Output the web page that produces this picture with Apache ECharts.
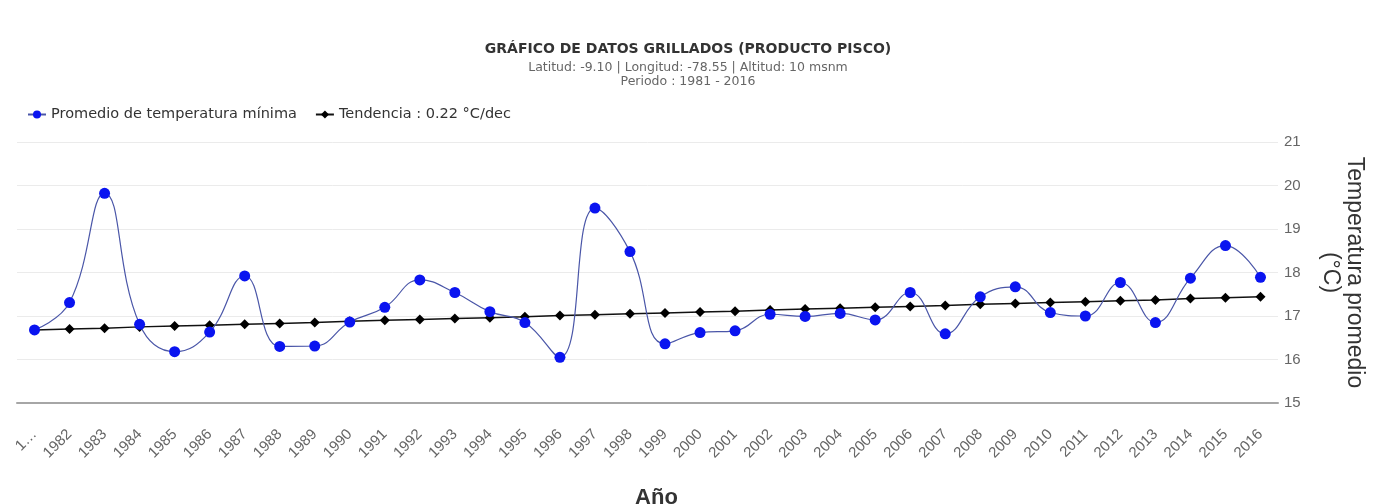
<!DOCTYPE html>
<html>
<head>
<meta charset="utf-8">
<script src="https://cdn.jsdelivr.net/npm/echarts@6/dist/echarts.min.js"></script>
<style>
  html, body { margin: 0; padding: 0; background: #fff; }
  #chart { width: 1376px; height: 504px; }
</style>
</head>
<body>
<div id="chart"></div>
<script>
// Years of the gridded series
const years = ['1981', '1982', '1983', '1984', '1985', '1986', '1987', '1988', '1989', '1990',
  '1991', '1992', '1993', '1994', '1995', '1996', '1997', '1998', '1999', '2000',
  '2001', '2002', '2003', '2004', '2005', '2006', '2007', '2008', '2009', '2010',
  '2011', '2012', '2013', '2014', '2015', '2016'];

// Annual mean of minimum temperature (°C)
const tempMin = [16.68, 17.31, 19.82, 16.81, 16.18, 16.63, 17.92, 16.30, 16.31, 16.86,
  17.20, 17.83, 17.54, 17.10, 16.85, 16.05, 19.48, 18.48, 16.36, 16.62,
  16.66, 17.04, 16.99, 17.06, 16.91, 17.54, 16.59, 17.44, 17.67, 17.08,
  17.00, 17.77, 16.85, 17.87, 18.62, 17.89];

// Linear trend (0.22 °C per decade)
const trend = [16.68, 16.70, 16.72, 16.75, 16.77, 16.79, 16.81, 16.83, 16.85, 16.88,
  16.90, 16.92, 16.94, 16.96, 16.98, 17.01, 17.03, 17.05, 17.07, 17.09,
  17.11, 17.14, 17.16, 17.18, 17.20, 17.22, 17.24, 17.27, 17.29, 17.31,
  17.33, 17.35, 17.37, 17.40, 17.42, 17.44];

// Y axis range and step
const yMin = 15, yMax = 21, yStep = 1;

const titleText = 'GRÁFICO DE DATOS GRILLADOS (PRODUCTO PISCO)';
const subText = 'Latitud: -9.10 | Longitud: -78.55 | Altitud: 10 msnm\nPeriodo : 1981 - 2016';
const seriesNames = ['Promedio de temperatura mínima', 'Tendencia : 0.22 °C/dec'];

const uiFont = '"DejaVu Sans", Verdana, sans-serif';
const axisFont = '"Liberation Sans", Arial, sans-serif';

const chart = echarts.init(document.getElementById('chart'), null, { renderer: 'canvas' });

chart.setOption({
  backgroundColor: '#ffffff',
  animation: false,
  title: {
    text: titleText,
    subtext: subText,
    left: 'center',
    top: 37,
    itemGap: 5,
    textStyle: { fontFamily: uiFont, fontSize: 14, fontWeight: 'bold', color: '#333' },
    subtextStyle: { fontFamily: uiFont, fontSize: 12.5, color: '#666', lineHeight: 14 }
  },
  legend: {
    left: 22,
    top: 102,
    itemWidth: 18,
    itemHeight: 10,
    itemGap: 18,
    textStyle: { fontFamily: uiFont, fontSize: 14.5, color: '#333' },
    data: seriesNames
  },
  grid: { left: 17, right: 98, top: 142, bottom: 101, containLabel: false, outerBoundsMode: 'none' },
  xAxis: {
    type: 'category',
    data: years,
    boundaryGap: true,
    name: 'Año',
    nameLocation: 'middle',
    nameGap: 84,
    nameTextStyle: { fontFamily: axisFont, fontSize: 22, fontWeight: 'bold', color: '#333', padding: [0, 0, 0, 18] },
    axisLine: { lineStyle: { color: '#a6a6a6', width: 2 } },
    axisTick: { show: false },
    splitLine: { show: false },
    axisLabel: {
      interval: 0,
      rotate: 45,
      margin: 29,
      fontFamily: axisFont,
      fontSize: 15,
      color: '#666',
      formatter: (v, i) => (i === 0 ? v.charAt(0) + '…' : v)
    }
  },
  yAxis: {
    type: 'value',
    position: 'right',
    min: yMin,
    max: yMax,
    interval: yStep,
    name: 'Temperatura promedio\n(°C)',
    nameLocation: 'middle',
    nameRotate: -90,
    nameGap: 40,
    nameTextStyle: { fontFamily: axisFont, fontSize: 23, color: '#333', lineHeight: 24 },
    axisLine: { show: false },
    axisTick: { show: false },
    axisLabel: { margin: 6, fontFamily: axisFont, fontSize: 15, color: '#666' },
    splitLine: { lineStyle: { color: '#ebebeb', width: 1 } }
  },
  series: [
    {
      name: seriesNames[1],
      type: 'line',
      data: trend,
      symbol: 'diamond',
      symbolSize: 10,
      itemStyle: { color: '#000000' },
      lineStyle: { color: '#111111', width: 1.5 },
      z: 2
    },
    {
      name: seriesNames[0],
      type: 'line',
      data: tempMin,
      smooth: 0.45,
      symbol: 'circle',
      symbolSize: 11,
      itemStyle: { color: '#0a14f0' },
      lineStyle: { color: '#4a56a8', width: 1.2 },
      z: 3
    }
  ]
});
</script>
</body>
</html>
